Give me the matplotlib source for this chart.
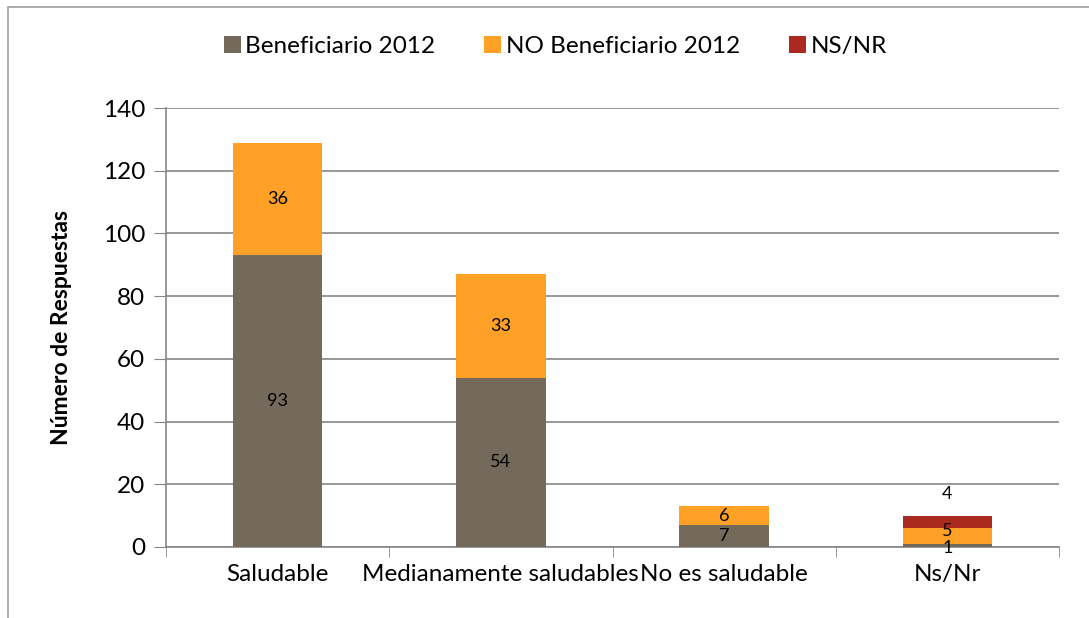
import numpy as np
import matplotlib.pyplot as plt
from matplotlib.patches import Rectangle

plt.rcParams['font.family'] = ['Lato', 'DejaVu Sans']

categories = ['Saludable', 'Medianamente saludables', 'No es saludable', 'Ns/Nr']
series_names = ['Beneficiario 2012', 'NO Beneficiario 2012', 'NS/NR']
beneficiario = [93, 54, 7, 1]
no_beneficiario = [36, 33, 6, 5]
nsnr = [0, 0, 0, 4]
colors = ['#736A5B', '#FFA126', '#AA2A20']

fig = plt.figure(figsize=(10.89, 6.18), dpi=100)
ax = fig.add_axes([0.1524, 0.1149, 0.8201, 0.7103])

# gray frame around the chart area, like the Excel chart border
fig.patches.append(Rectangle((8 / 1089, -0.05), 1.1, 1 - 7 / 618 + 0.05,
                             transform=fig.transFigure, fill=False,
                             edgecolor='#A0A0A0', linewidth=1.2))

x = np.arange(len(categories))
width = 0.4
bottom = np.zeros(len(categories))
for name, values, color in zip(series_names, [beneficiario, no_beneficiario, nsnr], colors):
    ax.bar(x, values, width=width, bottom=bottom, color=color, label=name, zorder=3)
    for xi, b, v in zip(x, bottom, values):
        if v == 0:
            continue
        y = b + v / 2
        if name == 'NS/NR':
            # Excel put this label above the bar
            y = b + v + 7
        elif v == 1:
            y = b - 0.3
        elif b > 0 and b < 2:
            # small segment sitting on the tiny one: nudge up like the original
            y = b + v / 2 + 1.5
        ax.text(xi, y, str(v), ha='center', va='center', fontsize=13, zorder=4)
    bottom += np.array(values)

ax.set_xlim(-0.5, len(categories) - 0.5)
ax.set_ylim(0, 140)
ax.set_yticks(range(0, 141, 20))
ax.set_xticks(x)
ax.set_xticklabels(categories, fontsize=17.5)
ax.set_xticks(np.arange(-0.5, len(categories), 1), minor=True)
ax.tick_params(axis='x', which='major', length=0, pad=12)
ax.tick_params(axis='x', which='minor', length=7, color='#868686')
ax.tick_params(axis='y', length=9, color='#868686', labelsize=17.5, pad=6)
ax.yaxis.grid(True, color='#868686', linewidth=1.2, zorder=0)

for s in ['top', 'right']:
    ax.spines[s].set_visible(False)
for s in ['left', 'bottom']:
    ax.spines[s].set_color('#868686')
    ax.spines[s].set_linewidth(1.2)

ax.set_ylabel('Número de Respuestas', fontsize=16.5, fontweight='bold', labelpad=22)

fig.legend(loc='center', bbox_to_anchor=(0.51, 0.925), ncol=3, frameon=False,
           fontsize=17.5, handlelength=0.7, handleheight=0.7, handletextpad=0.2,
           columnspacing=2.0)

plt.savefig('out.png', dpi=100)
